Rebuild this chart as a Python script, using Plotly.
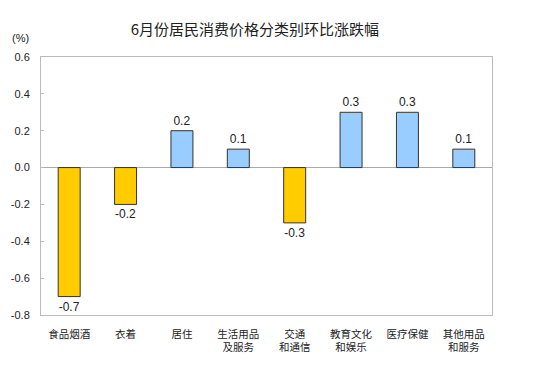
import plotly.graph_objects as go

categories = ["食品烟酒", "衣着", "居住", "生活用品<br>及服务", "交通<br>和通信", "教育文化<br>和娱乐", "医疗保健", "其他用品<br>和服务"]
values = [-0.7, -0.2, 0.2, 0.1, -0.3, 0.3, 0.3, 0.1]
labels = ["-0.7", "-0.2", "0.2", "0.1", "-0.3", "0.3", "0.3", "0.1"]
tick_vals = [0.6, 0.4, 0.2, 0.0, -0.2, -0.4, -0.6, -0.8]
tick_text = ["0.6", "0.4", "0.2", "0.0", "-0.2", "-0.4", "-0.6", "-0.8"]

colors = ["#FFCC00" if v < 0 else "#99CCFF" for v in values]

font = "Noto Sans CJK SC, Arial, sans-serif"

fig = go.Figure(go.Bar(
    x=categories, y=values, marker=dict(color=colors, line=dict(color="#333333", width=1)),
    text=labels, textposition="outside", textfont=dict(size=12, color="#222222", family="Arial"),
    width=0.39, cliponaxis=False,
))

fig.update_layout(
    width=550, height=381,
    margin=dict(l=33, r=66, t=49, b=74),
    paper_bgcolor="white", plot_bgcolor="white",
    showlegend=False,
    title=dict(text="6月份居民消费价格分类别环比涨跌幅", x=0.449, xanchor="center", y=0.942, yanchor="middle",
               font=dict(size=15, color="#222222", family=font)),
    annotations=[dict(text="(%)", xref="paper", yref="paper", x=-0.069, y=1.074, showarrow=False,
                      xanchor="left", yanchor="middle", font=dict(size=11, color="#222222", family="Arial"))],
    xaxis=dict(showgrid=False, showline=True, linecolor="#BBBBBB", mirror=True, ticks="",
               automargin=False, ticklabelstandoff=9,
               tickfont=dict(size=10.5, color="#222222", family=font), tickangle=0),
    yaxis=dict(range=[-0.8, 0.6], tickvals=tick_vals, ticktext=tick_text, showgrid=False,
               automargin=False, ticklabelstandoff=8,
               showline=True, linecolor="#BBBBBB", mirror=True, ticks="inside", ticklen=3, tickcolor="#BBBBBB",
               zeroline=True, zerolinecolor="#AAAAAA", zerolinewidth=1,
               tickfont=dict(size=11, color="#222222", family="Arial")),
)

fig.write_html("out.html")
